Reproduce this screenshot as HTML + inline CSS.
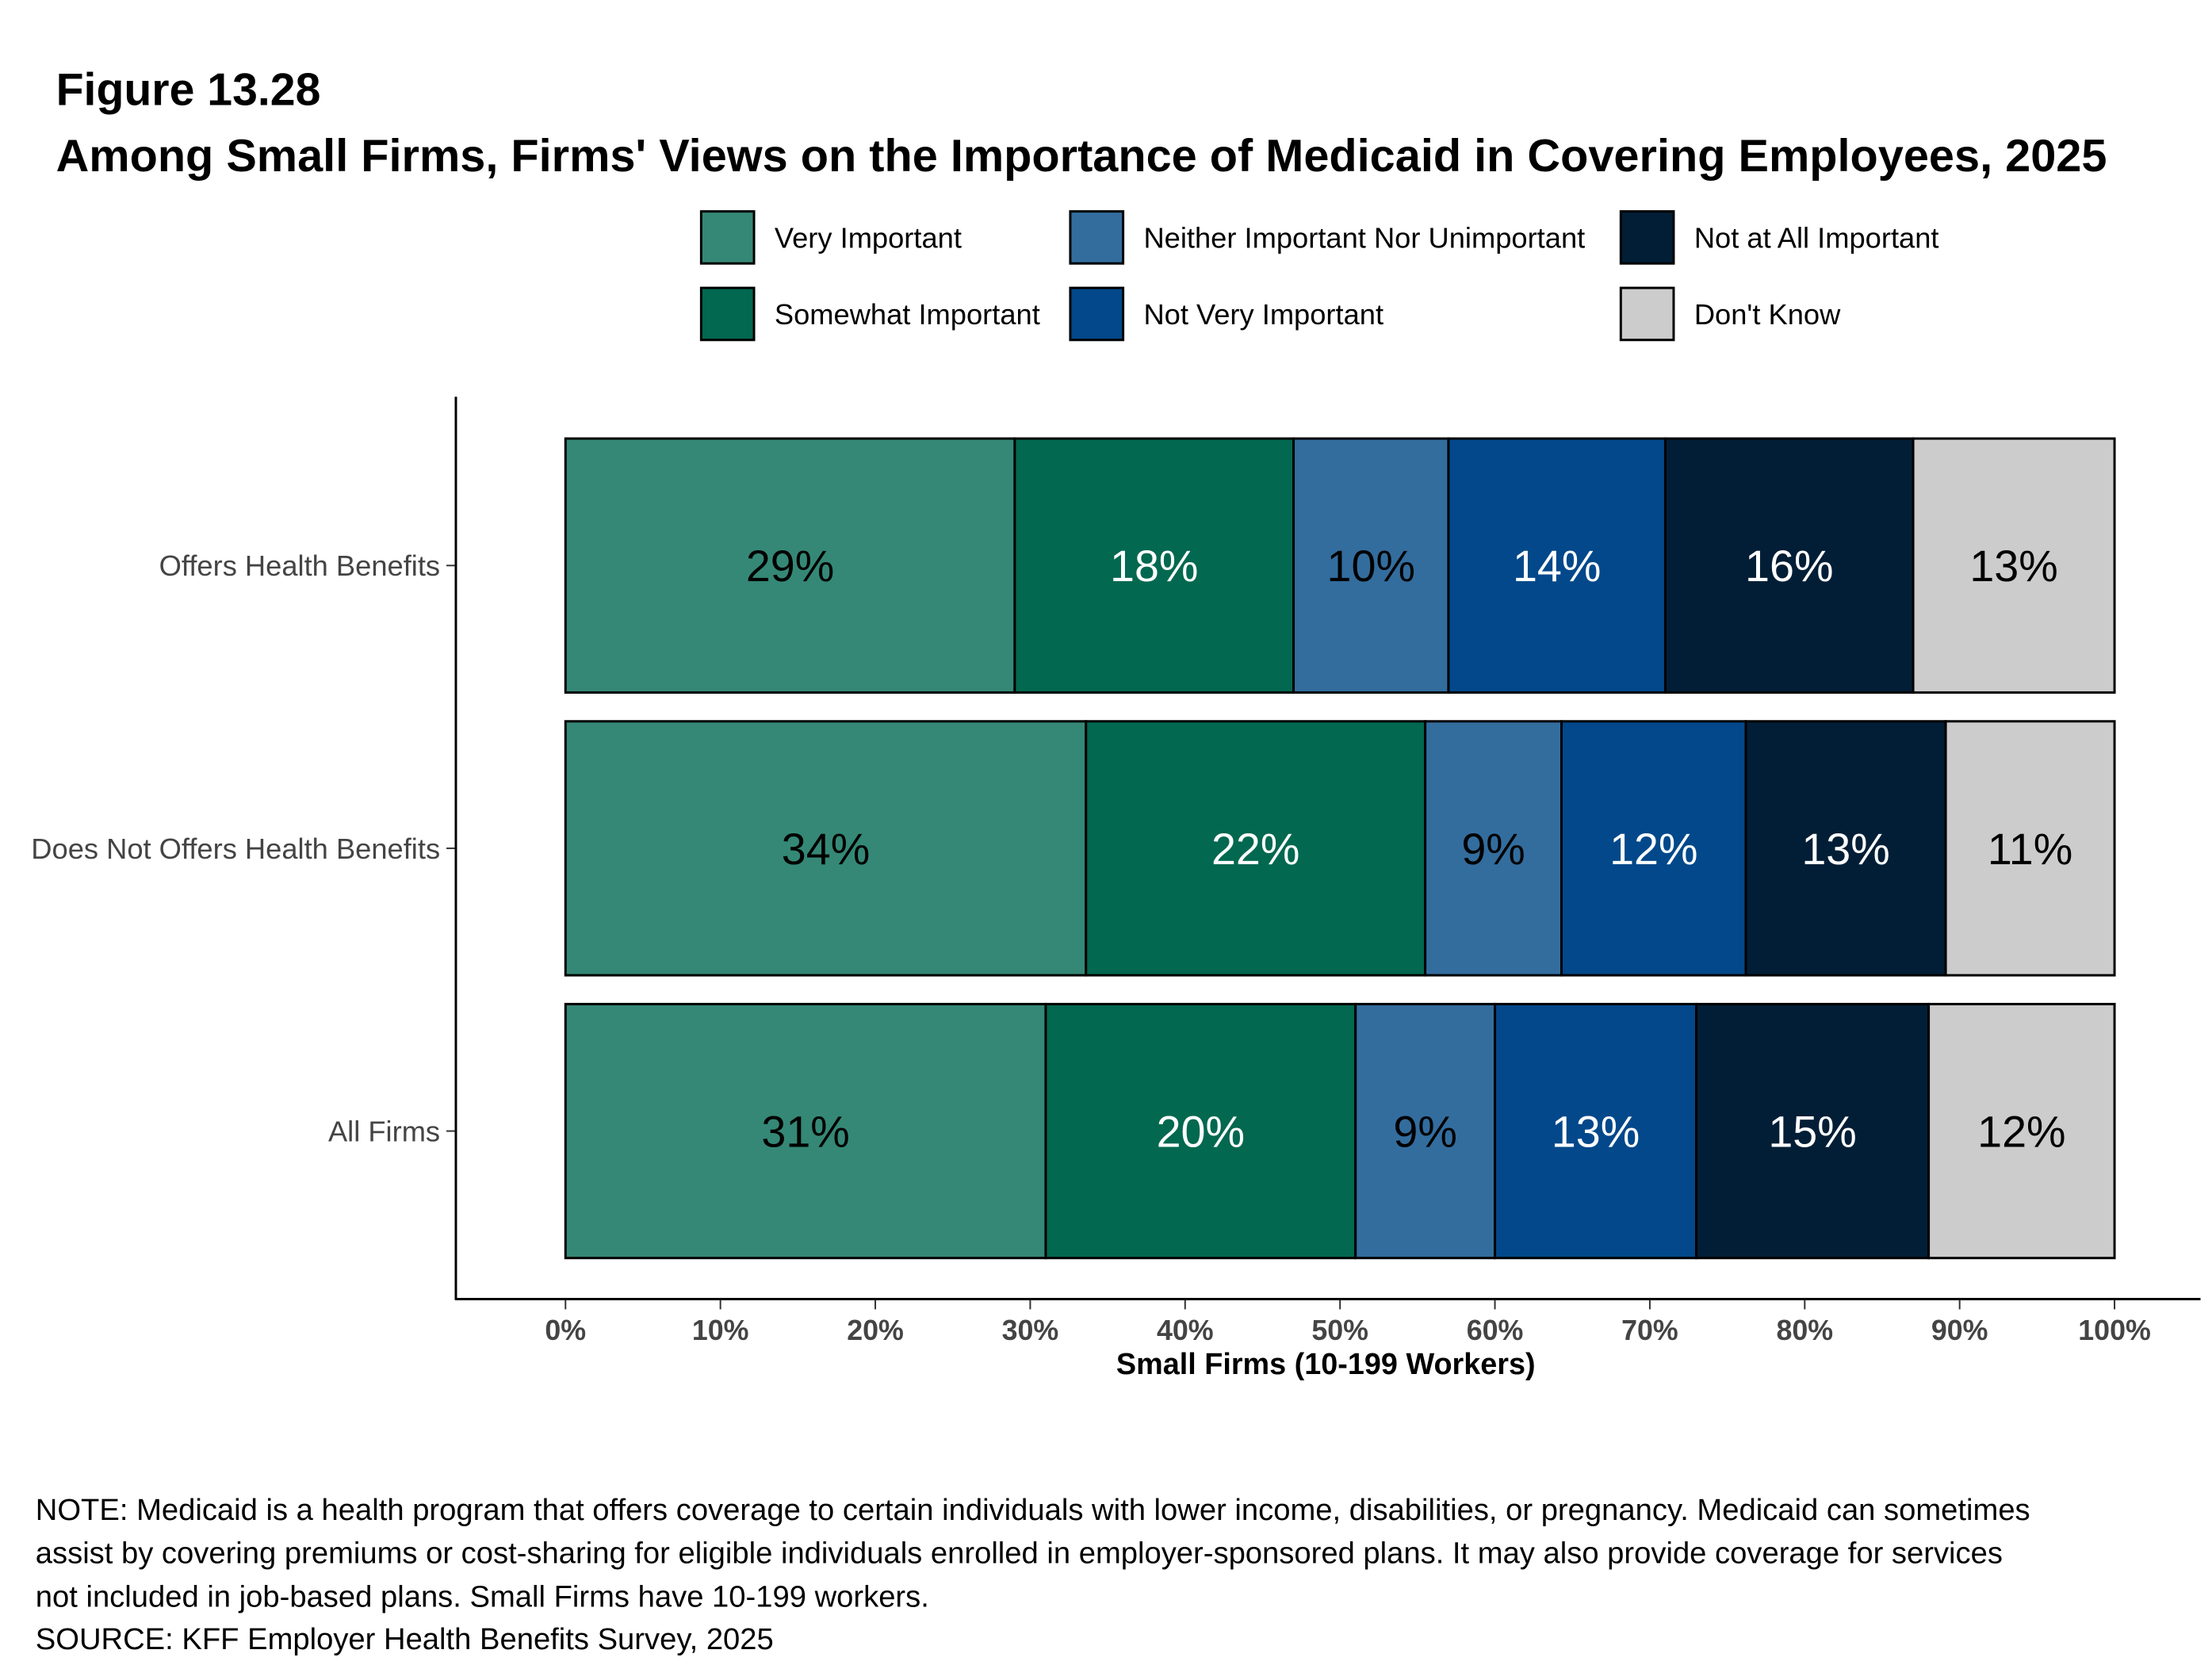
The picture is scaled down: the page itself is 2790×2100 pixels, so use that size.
<!DOCTYPE html>
<html><head><meta charset="utf-8"><style>
html,body{margin:0;padding:0;background:#fff;}
svg{display:block;font-family:"Liberation Sans",Arial,sans-serif;}
</style></head><body>
<svg id="chart" width="2790" height="2100" viewBox="0 0 2790 2100" xmlns="http://www.w3.org/2000/svg">
<g transform="translate(0,2) scale(0.9948)">
<text x="71" y="131" font-size="57.5" font-weight="bold" fill="#000">Figure 13.28</text>
<text x="71" y="215" font-size="58" font-weight="bold" fill="#000">Among Small Firms, Firms' Views on the Importance of Medicaid in Covering Employees, 2025</text>
<g id="legend"></g>
<g id="bars"></g>
<g id="axes"></g>
<text x="1681" y="1740" font-size="38" font-weight="bold" text-anchor="middle" fill="#000">Small Firms (10-199 Workers)</text>
<g font-size="38.4" fill="#000">
<text x="45" y="1925">NOTE: Medicaid is a health program that offers coverage to certain individuals with lower income, disabilities, or pregnancy. Medicaid can sometimes</text>
<text x="45" y="1980">assist by covering premiums or cost-sharing for eligible individuals enrolled in employer-sponsored plans. It may also provide coverage for services</text>
<text x="45" y="2035">not included in job-based plans. Small Firms have 10-199 workers.</text>
<text x="45" y="2089">SOURCE: KFF Employer Health Benefits Survey, 2025</text>
</g>
</g>
</svg>
<script>
const categories = ["Offers Health Benefits","Does Not Offers Health Benefits","All Firms"];
const seriesNames = ["Very Important","Somewhat Important","Neither Important Nor Unimportant","Not Very Important","Not at All Important","Don't Know"];
const veryImportant = [29, 33.6, 31];
const somewhatImportant = [18, 21.9, 20];
const neither = [10, 8.8, 9];
const notVery = [14, 11.9, 13];
const notAtAll = [16, 12.9, 15];
const dontKnow = [13, 10.9, 12];
const valueLabels = [["29%","18%","10%","14%","16%","13%"],["34%","22%","9%","12%","13%","11%"],["31%","20%","9%","13%","15%","12%"]];
const tickValues = [0,10,20,30,40,50,60,70,80,90,100];
const tickLabels = ["0%","10%","20%","30%","40%","50%","60%","70%","80%","90%","100%"];

const colors = ["#358876","#02684f","#336d9e","#02488a","#021e36","#cccccc"];
const textColors = ["#000","#fff","#000","#fff","#fff","#000"];
const NS = "http://www.w3.org/2000/svg";
const X0 = 717, X1 = 2681;
const xScale = v => X0 + (X1 - X0) * v / 100;
const bandTop = 500, bandStep = 358.5, barH = 322, barOff = 54;
const yScale = i => bandTop + barOff + i * bandStep;
function mk(tag, attrs, parent){const e=document.createElementNS(NS,tag);for(const k in attrs)e.setAttribute(k,attrs[k]);parent.appendChild(e);return e;}

const series = [veryImportant, somewhatImportant, neither, notVery, notAtAll, dontKnow];
const bars = document.getElementById('bars');
categories.forEach((c, i) => {
  let cum = 0;
  const y = yScale(i);
  series.forEach((s, j) => {
    const v = s[i];
    const r = mk('rect', {x: xScale(cum), y: y, width: xScale(cum + v) - xScale(cum), height: barH, fill: colors[j], stroke: '#000', 'stroke-width': 3}, bars);
    
    
    const t = mk('text', {x: (xScale(cum) + xScale(cum + v)) / 2, y: y + barH / 2 + 20, 'font-size': 56, 'text-anchor': 'middle', fill: textColors[j]}, bars);
    t.textContent = valueLabels[i][j];
    
    
    cum += v;
  });
  const lbl = mk('text', {x: 558, y: y + barH / 2 + 13, 'font-size': 36.5, 'text-anchor': 'end', fill: '#444'}, bars);
  lbl.textContent = c;
  
  
  mk('line', {x1: 566, x2: 578, y1: y + barH / 2, y2: y + barH / 2, stroke: '#333', 'stroke-width': 2}, bars);
});

const axes = document.getElementById('axes');
mk('line', {x1: 578, x2: 578, y1: 501, y2: 1646, stroke: '#000', 'stroke-width': 3}, axes);
mk('line', {x1: 577, x2: 2790, y1: 1645, y2: 1645, stroke: '#000', 'stroke-width': 3}, axes);
tickValues.forEach((v, k) => {
  mk('line', {x1: xScale(v), x2: xScale(v), y1: 1646, y2: 1658, stroke: '#333', 'stroke-width': 2}, axes);
  const t = mk('text', {x: xScale(v), y: 1697, 'font-size': 36, 'font-weight': 'bold', 'text-anchor': 'middle', fill: '#444'}, axes);
  t.textContent = tickLabels[k];
  
  
});

const legend = document.getElementById('legend');
const legX = [889, 1357, 2055], legY = [266, 363];
seriesNames.forEach((n, j) => {
  const col = Math.floor(j / 2), row = j % 2;
  const r = mk('rect', {x: legX[col], y: legY[row], width: 67, height: 66, fill: colors[j], stroke: '#000', 'stroke-width': 3}, legend);
  
  
  const t = mk('text', {x: legX[col] + 93, y: legY[row] + 46, 'font-size': 36.5, fill: '#000'}, legend);
  t.textContent = n;
  
  
});
</script>
</body></html>
